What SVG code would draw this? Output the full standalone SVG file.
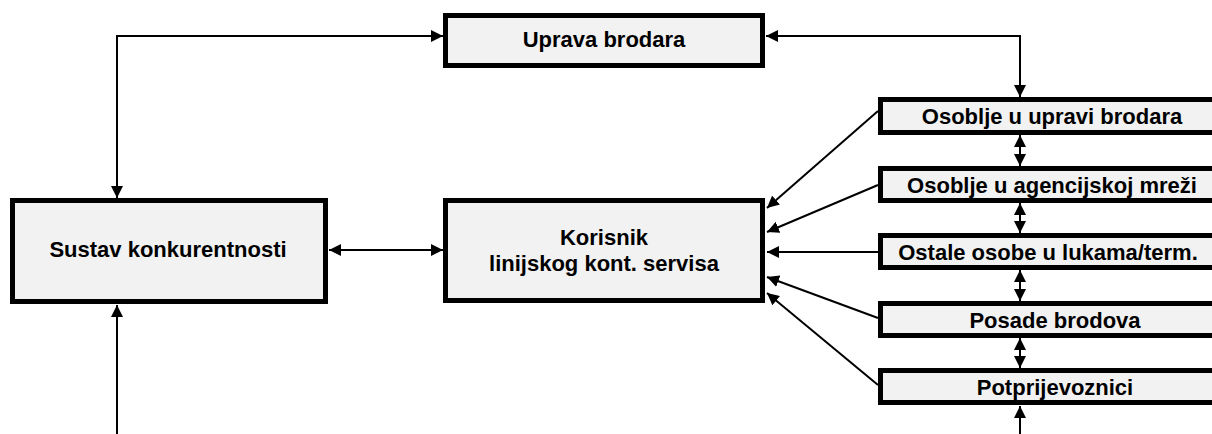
<svg xmlns="http://www.w3.org/2000/svg" width="1212" height="434" viewBox="0 0 1212 434">
<defs>
<marker id="ah" viewBox="0 0 12 12" refX="12" refY="6" markerWidth="12" markerHeight="12" markerUnits="userSpaceOnUse" orient="auto-start-reverse">
<path d="M0,0 L12,6 L0,12 Z" fill="#000"/>
</marker>
<style>
.box{fill:#f2f2f2;stroke:#000;stroke-width:5}
.t{font-family:"Liberation Sans",Arial,sans-serif;font-weight:bold;font-size:22px;fill:#000;text-anchor:middle}
.c{fill:none;stroke:#000;stroke-width:2}
</style>
</defs>
<g id="connectors">
<polyline class="c" points="443,36 117,36 117,198" marker-start="url(#ah)" marker-end="url(#ah)"/>
<polyline class="c" points="766,36 1020,36 1020,97" marker-start="url(#ah)" marker-end="url(#ah)"/>
<line class="c" x1="329" y1="250" x2="443" y2="250" marker-start="url(#ah)" marker-end="url(#ah)"/>
<line class="c" x1="117" y1="434" x2="117" y2="305" marker-end="url(#ah)"/>
<line class="c" x1="1020" y1="434" x2="1020" y2="406" marker-end="url(#ah)"/>
<line class="c" x1="1020" y1="135" x2="1020" y2="166" marker-start="url(#ah)" marker-end="url(#ah)"/>
<line class="c" x1="1020" y1="203" x2="1020" y2="233" marker-start="url(#ah)" marker-end="url(#ah)"/>
<line class="c" x1="1020" y1="270" x2="1020" y2="301" marker-start="url(#ah)" marker-end="url(#ah)"/>
<line class="c" x1="1020" y1="338" x2="1020" y2="368" marker-start="url(#ah)" marker-end="url(#ah)"/>
<line class="c" x1="878" y1="111" x2="767" y2="208" marker-end="url(#ah)"/>
<line class="c" x1="878" y1="185" x2="767" y2="232" marker-end="url(#ah)"/>
<line class="c" x1="878" y1="252" x2="767" y2="252" marker-end="url(#ah)"/>
<line class="c" x1="878" y1="318" x2="767" y2="277" marker-end="url(#ah)"/>
<line class="c" x1="878" y1="385" x2="767" y2="293" marker-end="url(#ah)"/>
</g>
<g id="uprava">
<rect class="box" x="445.5" y="15.5" width="317" height="50"/>
<text class="t" x="604" y="47">Uprava brodara</text>
</g>
<g id="sustav">
<rect class="box" x="12.5" y="200.5" width="313" height="101"/>
<text class="t" x="168" y="257">Sustav konkurentnosti</text>
</g>
<g id="korisnik">
<rect class="box" x="445.5" y="200.5" width="317" height="100"/>
<text class="t" x="604" y="245">Korisnik</text>
<text class="t" x="604" y="271">linijskog kont. servisa</text>
</g>
<g id="osoblje-uprava">
<rect class="box" x="880.5" y="99.5" width="350" height="33"/>
<text class="t" x="1052" y="124">Osoblje u upravi brodara</text>
</g>
<g id="osoblje-agencija">
<rect class="box" x="880.5" y="168.5" width="350" height="32"/>
<text class="t" x="1052" y="193">Osoblje u agencijskoj mreži</text>
</g>
<g id="ostale-osobe">
<rect class="box" x="880.5" y="235.5" width="350" height="32"/>
<text class="t" x="1048" y="260">Ostale osobe u lukama/term.</text>
</g>
<g id="posade">
<rect class="box" x="880.5" y="303.5" width="350" height="32"/>
<text class="t" x="1055" y="328">Posade brodova</text>
</g>
<g id="potprijevoznici">
<rect class="box" x="880.5" y="370.5" width="350" height="32"/>
<text class="t" x="1055" y="395">Potprijevoznici</text>
</g>
</svg>
